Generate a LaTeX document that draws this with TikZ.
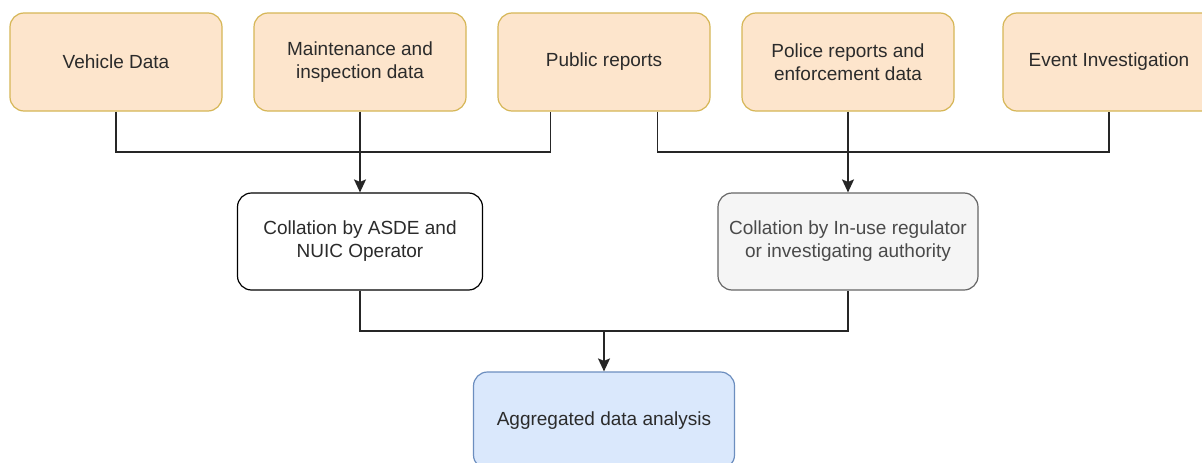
\documentclass[tikz,border=0pt]{standalone}
\usepackage{fontspec}
\setmainfont{Liberation Sans}
\usetikzlibrary{arrows.meta,positioning}

\definecolor{srcfill}{HTML}{FDE5CC}
\definecolor{srcline}{HTML}{D6B656}
\definecolor{greyfill}{HTML}{F5F5F5}
\definecolor{greyline}{HTML}{666666}
\definecolor{bluefill}{HTML}{DAE8FC}
\definecolor{blueline}{HTML}{6C8EBF}
\definecolor{inkdark}{HTML}{2B2B2B}
\definecolor{inkgrey}{HTML}{4A4A4A}

\tikzset{
  box/.style={rounded corners=14pt, line width=1.2pt, align=center,
    inner sep=0pt, font=\fontsize{19}{23}\selectfont, text=inkdark},
  srcbox/.style={box, fill=srcfill, draw=srcline,
    minimum width=212pt, minimum height=98pt},
  whitebox/.style={box, fill=white, draw=black,
    minimum width=245pt, minimum height=97pt},
  greybox/.style={box, fill=greyfill, draw=greyline, text=inkgrey,
    minimum width=260pt, minimum height=97pt},
  bluebox/.style={box, fill=bluefill, draw=blueline,
    minimum width=261pt, minimum height=97pt},
  link/.style={line width=1.5pt, draw=black!85},
  arrowlink/.style={link, -{Stealth[length=13pt,width=12pt,inset=2.5pt]}},
}

\begin{document}
\begin{tikzpicture}[x=1pt,y=-1pt]
  \useasboundingbox (0,0) rectangle (1202,463);
  \clip (0,0) rectangle (1202,463);
  \fill[white] (0,0) rectangle (1202,463);

  % data sources
  \node[srcbox] (veh)    at (116,62)  {Vehicle Data};
  \node[srcbox] (maint)  at (360,62)  {Maintenance and\\inspection data};
  \node[srcbox] (pub)    at (604,62)  {Public reports};
  \node[srcbox] (police) at (848,62)  {Police reports and\\enforcement data};
  \node[srcbox] (evt)    at (1109,62) {Event Investigation};

  % collation stages
  \node[whitebox] (colA) at (360,241.5) {Collation by ASDE and\\NUIC Operator};
  \node[greybox]  (colB) at (848,241.5) {Collation by In-use regulator\\or investigating authority};

  % analysis
  \node[bluebox] (agg) at (604,420.5) {Aggregated data analysis};

  % junction levels
  \coordinate (busTop) at (0,152);
  \coordinate (busBot) at (0,331);
  \coordinate (pubL) at ([xshift=53pt]pub.south west);
  \coordinate (pubR) at ([xshift=-53pt]pub.south east);

  % sources to collation
  \draw[link] (veh.south) |- (busTop -| pubL) -- (pubL);
  \draw[arrowlink] (maint.south) -- (colA.north);
  \draw[link] (pubR) |- (busTop -| evt.south) -- (evt.south);
  \draw[arrowlink] (police.south) -- (colB.north);

  % collation to analysis
  \draw[link] (colA.south) |- (busBot -| colB.south) -- (colB.south);
  \draw[arrowlink] (busBot -| agg.north) -- (agg.north);
\end{tikzpicture}
\end{document}
